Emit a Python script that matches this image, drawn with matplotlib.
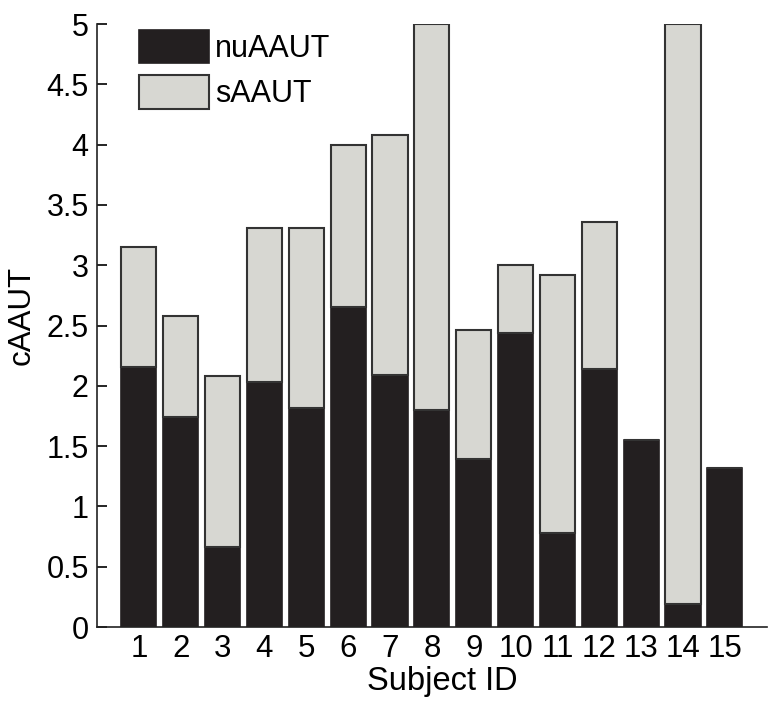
import matplotlib.pyplot as plt
import numpy as np

plt.rcParams['font.family'] = ['Liberation Sans', 'DejaVu Sans']

subjects = list(range(1, 16))
nuaaut = [2.16, 1.74, 0.66, 2.03, 1.82, 2.65, 2.09, 1.80, 1.39, 2.44, 0.78, 2.14, 1.55, 0.19, 1.32]
total = [3.15, 2.58, 2.08, 3.31, 3.31, 4.00, 4.08, 5.00, 2.46, 3.00, 2.92, 3.36, 1.55, 5.00, 1.32]
saaut = [t - n for t, n in zip(total, nuaaut)]

dark = '#231f20'
light = '#d7d7d2'

fig = plt.figure(figsize=(7.76, 7.08), dpi=100)
ax = fig.add_axes([0.125, 0.1144, 0.863, 0.8516])

ax.bar(subjects, nuaaut, width=0.84, color=dark, edgecolor=dark, linewidth=1.2, label='nuAAUT')
ax.bar(subjects, saaut, width=0.84, bottom=nuaaut, color=light, edgecolor='#333333',
       linewidth=1.5, label='sAAUT')

ax.set_xlim(0, 16)
ax.set_ylim(0, 5)
ax.set_xticks(subjects)
ax.set_yticks(np.arange(0, 5.01, 0.5))
ax.set_yticklabels(['0', '0.5', '1', '1.5', '2', '2.5', '3', '3.5', '4', '4.5', '5'])
ax.tick_params(axis='y', direction='in', length=7, width=1.2, pad=6, labelsize=22)
ax.tick_params(axis='x', direction='in', length=0, pad=5, labelsize=22.5)
for s in ['top', 'right']:
    ax.spines[s].set_visible(False)
for s in ['left', 'bottom']:
    ax.spines[s].set_linewidth(1.2)
    ax.spines[s].set_color('#222222')

ax.set_xlabel('Subject ID', fontsize=23.5)
ax.set_ylabel('cAAUT', fontsize=22.5)
ax.xaxis.set_label_coords(0.515, -0.065)
ax.yaxis.set_label_coords(-0.090, 0.517)

ax.legend(loc='upper left', bbox_to_anchor=(0.04, 1.016), frameon=False, fontsize=22,
          handlelength=2.3, handleheight=1.3, handletextpad=0.2, labelspacing=0.38,
          borderaxespad=0.1)

fig.savefig('out.png', dpi=100)
